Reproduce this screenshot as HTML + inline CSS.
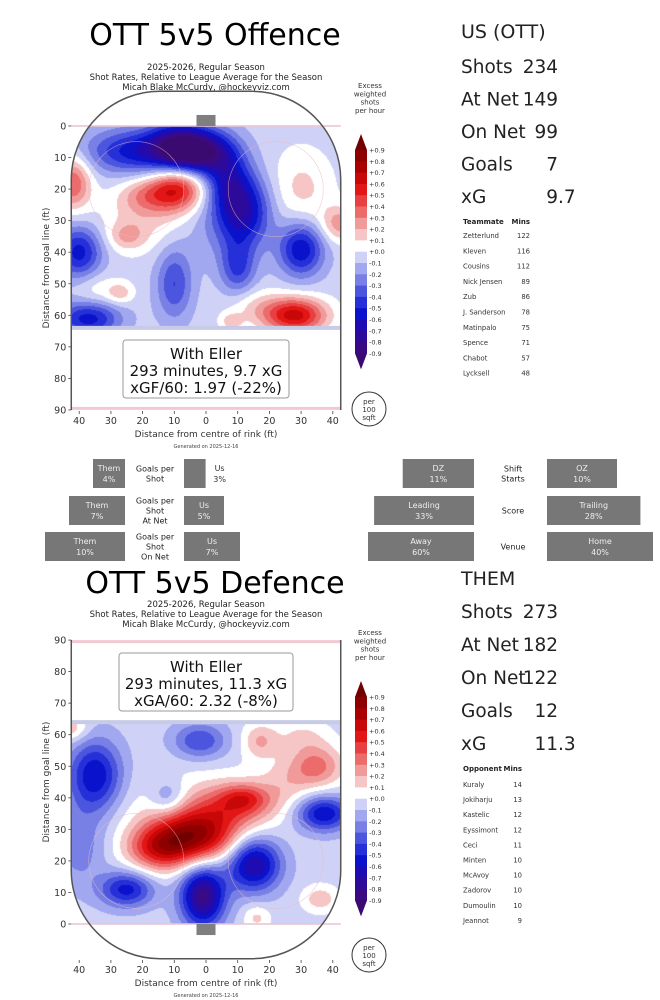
<!DOCTYPE html>
<html><head><meta charset="utf-8">
<style>
body{margin:0;background:#fff;}
#root{position:relative;width:660px;height:1000px;overflow:hidden;background:#fff;font-family:"DejaVu Sans","Liberation Sans",sans-serif;}
canvas{position:absolute;}
svg{position:absolute;left:0;top:0;}
</style></head>
<body>
<div id="root">
<canvas id="offHeat" width="660" height="1000" style="left:0;top:0"></canvas>
<canvas id="defHeat" width="660" height="1000" style="left:0;top:0"></canvas>
<svg id="svg" width="660" height="1000"></svg>
</div>
<script>
// ---------- DATA ----------
const xTickLabels = [40,30,20,10,0,10,20,30,40];
const xTickFt = [-40,-30,-20,-10,0,10,20,30,40];
const yTickLabels = [0,10,20,30,40,50,60,70,80,90];
const cbarLabels = ["+0.9","+0.8","+0.7","+0.6","+0.5","+0.4","+0.3","+0.2","+0.1","+0.0","-0.1","-0.2","-0.3","-0.4","-0.5","-0.6","-0.7","-0.8","-0.9"];
// heat blobs: x ft, y ft, amplitude, sigma x, sigma y
const offBlobX = [-2,-22,-10,12,7,30,-40,-37,10,-10,-9,-19,-42,28,42,-25,-27,8,-20,30,-35,15,3];
const offBlobY = [8,8,6,27,17,39,40,61,45,50,20,22,18,60,31,35,53,62,30,20,52,57,32];
const offBlobA = [-0.8,-0.5,-0.45,-0.55,-0.4,-0.55,-0.5,-0.5,-0.35,-0.35,0.6,0.25,0.45,0.7,0.3,0.2,0.2,0.2,0.16,0.18,0.14,0.14,-0.12];
const offBlobSX = [7,11,6,6,5,5,5,7,4,4,6,6,4,7,4,4,3,2.5,10,7,5,6,8];
const offBlobSY = [5,5,5,8,7,6,6,4,6,8,5,4,6,4,4,3,2.5,2,7,9,4,4,8];
const defBlobX = [-3,-15,10,12,35,17,-43,-1,15,-25,-35,37,-2,-12,30,36,16,-40,25,-5];
const defBlobY = [28,24,38,40,50,58,62,9,19,11,47,35,58,40,60,8,2,25,45,33];
const defBlobA = [0.7,0.5,0.35,0.25,0.38,0.25,0.25,-0.8,-0.7,-0.5,-0.55,-0.55,-0.35,-0.25,0.14,0.22,0.18,-0.22,0.14,0.18];
const defBlobSX = [9,7,9,5,6,4,4,5,6,6,6,6,6,4,6,4,3,6,6,16];
const defBlobSY = [6,5,5,3,5,4,3,7,6,4,8,4,4,4,4,3,3,9,6,10];
// stats
const usLabels = ["Shots","At Net","On Net","Goals","xG"];
const usValues = ["234","149","99","7","9.7"];
const themValues = ["273","182","122","12","11.3"];
const teammates = ["Zetterlund","Kleven","Cousins","Nick Jensen","Zub","J. Sanderson","Matinpalo","Spence","Chabot","Lycksell"];
const teammateMins = [122,116,112,89,86,78,75,71,57,48];
const opponents = ["Kuraly","Jokiharju","Kastelic","Eyssimont","Ceci","Minten","McAvoy","Zadorov","Dumoulin","Jeannot"];
const opponentMins = [14,13,12,12,11,10,10,10,10,9];
// middle bars
const gpsLabels = [["Goals per","Shot"],["Goals per","Shot","At Net"],["Goals per","Shot","On Net"]];
const gpsThem = [4,7,10];
const gpsUs = [3,5,7];
const ctxLabels = [["Shift","Starts"],["Score"],["Venue"]];
const ctxLeftNames = ["DZ","Leading","Away"];
const ctxLeftVals = [11,33,60];
const ctxRightNames = ["OZ","Trailing","Home"];
const ctxRightVals = [10,28,40];

// ---------- helpers ----------
const NS="http://www.w3.org/2000/svg";
const svg=document.getElementById('svg');
function el(tag,attrs,parent){const e=document.createElementNS(NS,tag);for(const k in attrs)e.setAttribute(k,attrs[k]);(parent||svg).appendChild(e);return e;}
function txt(s,x,y,size,opts){opts=opts||{};const t=el('text',{x:x,y:y,'font-size':size,fill:opts.fill||'#222','text-anchor':opts.anchor||'start','font-weight':opts.weight||'normal'});if(opts.transform)t.setAttribute('transform',opts.transform);t.textContent=s;return t;}

const posColors=["#ffffff","#f6c6c6","#f19a9a","#ec6c6c","#e84040","#e31616","#c80808","#aa0000","#8e0000","#720000"];
const negColors=["#cfd2f6","#a2a8ef","#7880e6","#4c55de","#2530d8","#0b12cc","#1e0cb2","#2e0a9a","#3a0a82","#3a0a70"];
function colorFor(v){
  if(v>=0){let k=Math.min(9,Math.floor(v/0.1));return posColors[k];}
  let k=Math.min(9,Math.floor(-v/0.1));return negColors[k];
}
function hexRgb(h){return [parseInt(h.substr(1,2),16),parseInt(h.substr(3,2),16),parseInt(h.substr(5,2),16)];}

const PX=3.17, CX=206, PY=3.155;
function xPx(ft){return CX+ft*PX;}

function drawHeat(canvasId, bx,by,ba,bsx,bsy, ftOfY, yTopPx, yBotPx){
  const c=document.getElementById(canvasId);const ctx=c.getContext('2d');
  const img=ctx.createImageData(660,1000);
  const x0=Math.round(xPx(-42.5)), x1=Math.round(xPx(42.5));
  const lvl=[];
  for(let py=yTopPx;py<yBotPx;py++){
    const fy=ftOfY(py+0.5);
    for(let px=x0;px<x1;px++){
      const fx=(px+0.5-CX)/PX;
      const cy=17, cxr=14.5;
      if(fy<cy && Math.abs(fx)>cxr){const dx=Math.abs(fx)-cxr, dy=cy-fy; if(dx*dx+dy*dy>28*28) continue;}
      let v=-0.05;
      for(let i=0;i<bx.length;i++){const dx=(fx-bx[i])/bsx[i], dy=(fy-by[i])/bsy[i];v+=ba[i]*Math.exp(-(dx*dx+dy*dy)/2);}
      const rgb=hexRgb(colorFor(v));const o=(py*660+px)*4;
      img.data[o]=rgb[0];img.data[o+1]=rgb[1];img.data[o+2]=rgb[2];img.data[o+3]=255;
    }
  }
  ctx.putImageData(img,0,0);
}
drawHeat('offHeat',offBlobX,offBlobY,offBlobA,offBlobSX,offBlobSY,py=>(py-126)/PY,126,Math.round(126+64*PY));
drawHeat('defHeat',defBlobX,defBlobY,defBlobA,defBlobSX,defBlobSY,py=>(924-py)/PY,Math.round(924-64*PY),924);

function rink(prefix, yOf, top, title, boxLines, bt, subOff){
  const g=el('g',{});
  
  
  const xl=xPx(-42.5), xr=xPx(42.5);
  const t=txt(title,215,bt,30,{anchor:'middle',fill:'#000'});
  const sub=["2025-2026, Regular Season","Shot Rates, Relative to League Average for the Season","Micah Blake McCurdy, @hockeyviz.com"];
  sub.forEach((s,i)=>{const st=txt(s,206,bt+subOff+i*10,8.5,{anchor:'middle'});});
  [-22,22].forEach(fx=>{el('circle',{cx:xPx(fx),cy:yOf(20),r:15*PX,fill:'none',stroke:'#e8b8c0','stroke-width':0.6,opacity:0.7});});
  el('line',{x1:xl,x2:xr,y1:yOf(0),y2:yOf(0),stroke:'#e9c4cf','stroke-width':1.5});
  el('line',{x1:xl,x2:xr,y1:yOf(64),y2:yOf(64),stroke:'#c7cbe6','stroke-width':4});
  el('line',{x1:xl,x2:xr,y1:yOf(89.5),y2:yOf(89.5),stroke:'#f2c8d2','stroke-width':3});
  const net=el('rect',{x:xPx(-3),width:6*PX,y:Math.min(yOf(0),yOf(-3.5)),height:3.5*PY,fill:'#7f7f7f'});
  
  const yc=yOf(17), ye=yOf(-11), y90=yOf(90);
  const sweep = yOf(1)>yOf(0)?1:0;
  const d=`M${xl},${y90} L${xl},${yc} A${28*PX},${28*PY} 0 0 ${sweep} ${xPx(-14.5)},${ye} L${xPx(14.5)},${ye} A${28*PX},${28*PY} 0 0 ${sweep} ${xr},${yc} L${xr},${y90}`;
  const o=el('path',{d:d,fill:'none',stroke:'#555','stroke-width':1.5});
  
  yTickLabels.forEach(v=>{el('line',{x1:xl-3,x2:xl,y1:yOf(v),y2:yOf(v),stroke:'#444','stroke-width':0.8});const tt=txt(String(v),xl-5,yOf(v)+3.5,9.5,{anchor:'end',fill:'#333'});});
  const xtY = prefix==='offence'?410:959;
  xTickFt.forEach((f,i)=>{el('line',{x1:xPx(f),x2:xPx(f),y1:xtY+1,y2:xtY+4,stroke:'#444','stroke-width':0.8});const tt=txt(String(xTickLabels[i]),xPx(f),xtY+14,9.5,{anchor:'middle',fill:'#333'});});
  const xlab=txt('Distance from centre of rink (ft)',206,xtY+27,9,{anchor:'middle',fill:'#333'});
  const gen=txt('Generated on 2025-12-16',206,xtY+38,5,{anchor:'middle',fill:'#444'});
  const ycen=(yOf(0)+yOf(90))/2;
  const ylab=txt('Distance from goal line (ft)',49,ycen,9,{anchor:'middle',fill:'#333',transform:`rotate(-90 49 ${ycen})`});
  const bx=el('rect',{x:bt>500?119:123,y:boxLines.y,width:bt>500?174:166,height:58,rx:3,fill:'#fff',stroke:'#999','stroke-width':1,'fill-opacity':0.9});
  
  boxLines.lines.forEach((s,i)=>{const tt=txt(s,206,boxLines.y+19+i*17,15,{anchor:'middle',fill:'#111'});});
  const cbTop=top, step=11.3, cbx=355, cbw=12;
  ["Excess","weighted","shots","per hour"].forEach((s,i)=>{const tt=txt(s,370,cbTop-62+i*8.3,7,{anchor:'middle',fill:'#333'});});
  for(let i=0;i<18;i++){
    const v=0.85-i*0.1;
    const r=el('rect',{x:cbx,y:cbTop+i*step,width:cbw,height:step+0.4,fill:colorFor(v)});
    
  }
  el('path',{d:`M${cbx},${cbTop} L${cbx+cbw/2},${cbTop-16} L${cbx+cbw},${cbTop}Z`,fill:colorFor(0.95)});
  el('path',{d:`M${cbx},${cbTop+18*step} L${cbx+cbw/2},${cbTop+18*step+16} L${cbx+cbw},${cbTop+18*step}Z`,fill:colorFor(-0.95)});
  cbarLabels.forEach((s,i)=>{const tt=txt(s,369,cbTop+i*step+2.5,6.5,{fill:'#333'});});
  const pc=prefix==='offence'?409:955;
  el('circle',{cx:369,cy:pc,r:17,fill:'#fff',stroke:'#333','stroke-width':1});
  ["per","100","sqft"].forEach((s,i)=>{const tt=txt(s,369,pc-5+i*8,7,{anchor:'middle',fill:'#333'});});
}
rink('offence',ft=>126+ft*PY,150,'OTT 5v5 Offence',{y:340,lines:['With Eller','293 minutes, 9.7 xG','xGF/60: 1.97 (-22%)']},45,25);
rink('defence',ft=>924-ft*PY,697,'OTT 5v5 Defence',{y:653,lines:['With Eller','293 minutes, 11.3 xG','xGA/60: 2.32 (-8%)']},593,14);

// ---------- stats ----------
function statsBlock(head,headY,values,firstY,step,prefix){
  const h=txt(head,461,headY,19,{fill:'#222'});
  usLabels.forEach((l,i)=>{
    const a=txt(l,461,firstY+i*step,18.5,{fill:'#222'});
    const v=values[i];const parts=v.split('.');
    const b=txt(parts[0],558,firstY+i*step,18.5,{anchor:'end',fill:'#222'});
    if(parts[1]){const c=txt('.'+parts[1],558,firstY+i*step,18.5,{fill:'#222'});}
  });
}
statsBlock('US (OTT)',38,usValues,73,32.5,'us');
statsBlock('THEM',585,themValues,618,33,'them');
function table(h1,names,mins,headY,rowY,step,minX,prefix){
  const a=txt(h1,463,headY,7,{weight:'bold',fill:'#222'});
  const b=txt('Mins',minX,headY,7,{weight:'bold',anchor:'end',fill:'#222'});
  names.forEach((n,i)=>{
    const t1=txt(n,463,rowY+i*step,6.8,{fill:'#333'});
    const t2=txt(String(mins[i]),minX,rowY+i*step,6.8,{anchor:'end',fill:'#333'});
  });
}
table('Teammate',teammates,teammateMins,224,238,15.3,530,'teammate');
table('Opponent',opponents,opponentMins,771,787,15.1,522,'opponent');

// ---------- middle bars ----------
const rowTop=[459,496,532], rowH=[29,29,29];
const gpsScale=8;
gpsThem.forEach((v,i)=>{
  const w=v*gpsScale;
  const r=el('rect',{x:125-w,y:rowTop[i],width:w,height:rowH[i],fill:'#777'});
  
  txt('Them',125-w/2,rowTop[i]+12,8,{anchor:'middle',fill:'#eee'});
  txt(v+'%',125-w/2,rowTop[i]+23,8,{anchor:'middle',fill:'#eee'});
  const uw=gpsUs[i]*gpsScale*(i==0?0.9:1);
  const u=el('rect',{x:184,y:rowTop[i],width:uw,height:rowH[i],fill:'#777'});
  
  const inside=uw>30;const ux=inside?184+uw/2:184+uw+14;const uc=inside?'#eee':'#333';
  txt('Us',ux,rowTop[i]+12,8,{anchor:'middle',fill:uc});
  txt(gpsUs[i]+'%',ux,rowTop[i]+23,8,{anchor:'middle',fill:uc});
  const lines=gpsLabels[i];const y0=rowTop[i]+14.5-(lines.length-1)*5;
  lines.forEach((s,j)=>{const tt=txt(s,155,y0+j*10+3,8,{anchor:'middle',fill:'#222'});});
});
function ctxW(v){return Math.min(106,57+1.3*v);}
ctxLeftVals.forEach((v,i)=>{
  const w=ctxW(v);
  const r=el('rect',{x:474-w,y:rowTop[i],width:w,height:rowH[i],fill:'#777'});
  
  txt(ctxLeftNames[i],474-w/2,rowTop[i]+12,8,{anchor:'middle',fill:'#eee'});
  txt(v+'%',474-w/2,rowTop[i]+23,8,{anchor:'middle',fill:'#eee'});
  const rv=ctxRightVals[i];const rw=ctxW(rv);
  const r2=el('rect',{x:547,y:rowTop[i],width:rw,height:rowH[i],fill:'#777'});
  
  txt(ctxRightNames[i],547+rw/2,rowTop[i]+12,8,{anchor:'middle',fill:'#eee'});
  txt(rv+'%',547+rw/2,rowTop[i]+23,8,{anchor:'middle',fill:'#eee'});
  const lines=ctxLabels[i];const y0=rowTop[i]+14.5-(lines.length-1)*5;
  lines.forEach((s,j)=>{const tt=txt(s,513,y0+j*10+3,8,{anchor:'middle',fill:'#222'});});
});
</script>
</body></html>
